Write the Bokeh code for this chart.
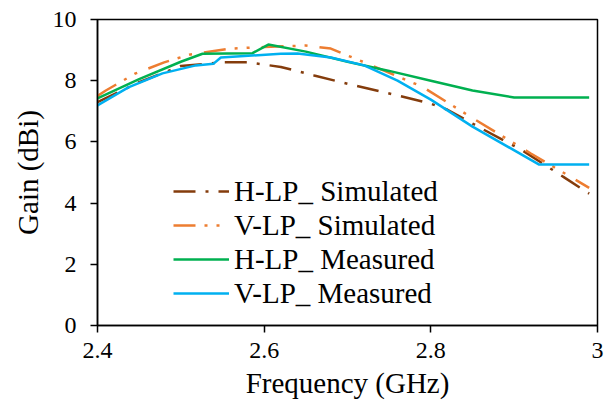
from bokeh.plotting import figure
from bokeh.models import FixedTicker, CustomJSTickFormatter, Legend, LegendItem
from bokeh.embed import file_html
from bokeh.resources import INLINE

# ---- data ----
freq_hsim = [2.40, 2.45, 2.50, 2.55, 2.58, 2.62, 2.66, 2.70, 2.76, 2.80, 2.82, 2.86, 2.91, 2.96, 2.99]
gain_hsim = [7.30, 7.95, 8.48, 8.60, 8.60, 8.45, 8.17, 7.90, 7.52, 7.25, 7.05, 6.45, 5.72, 4.84, 4.31]

freq_vsim = [2.40, 2.41, 2.445, 2.48, 2.51, 2.56, 2.60, 2.65, 2.68, 2.72, 2.79, 2.85, 2.92, 2.99]
gain_vsim = [7.50, 7.68, 8.23, 8.60, 8.85, 9.05, 9.10, 9.15, 9.05, 8.60, 7.80, 6.78, 5.62, 4.50]

freq_hmeas = [2.40, 2.45, 2.50, 2.526, 2.586, 2.605, 2.65, 2.70, 2.75, 2.80, 2.85, 2.90, 2.99]
gain_hmeas = [7.42, 8.05, 8.62, 8.88, 8.90, 9.18, 8.95, 8.62, 8.32, 8.00, 7.68, 7.45, 7.45]

freq_vmeas = [2.40, 2.437, 2.478, 2.518, 2.539, 2.548, 2.62, 2.64, 2.68, 2.72, 2.76, 2.80, 2.85, 2.93, 2.99]
gain_vmeas = [7.19, 7.78, 8.24, 8.50, 8.55, 8.76, 8.88, 8.89, 8.76, 8.50, 8.00, 7.38, 6.50, 5.26, 5.26]

x_ticks = [2.4, 2.6, 2.8, 3.0]
y_ticks = [0, 2, 4, 6, 8, 10]

series_names = ["H-LP_ Simulated", "V-LP_ Simulated", "H-LP_ Measured", "V-LP_ Measured"]

FONT = "Liberation Serif"

p = figure(width=612, height=409, output_backend="svg", toolbar_location=None,
           x_range=(2.4, 3.0), y_range=(0, 10),
           min_border_left=97, min_border_right=15, min_border_top=19, min_border_bottom=84)

p.background_fill_color = "white"
p.border_fill_color = "white"
p.outline_line_color = "black"
p.outline_line_width = 1.5
p.xgrid.visible = False
p.ygrid.visible = False

r1 = p.line(freq_hsim, gain_hsim, line_color="#843C0C", line_width=2.5, line_dash="22 10 3 10")
r2 = p.line(freq_vsim, gain_vsim, line_color="#ED7D31", line_width=2.5, line_dash="22 9 3 9 3 12")
r3 = p.line(freq_hmeas, gain_hmeas, line_color="#00B050", line_width=2.5)
r4 = p.line(freq_vmeas, gain_vmeas, line_color="#00B0F0", line_width=2.5)

for ax in (p.xaxis[0], p.yaxis[0]):
    ax.axis_line_color = "black"
    ax.axis_line_width = 1.5
    ax.major_tick_line_color = "black"
    ax.major_tick_line_width = 1.5
    ax.major_tick_in = 0
    ax.major_tick_out = 7
    ax.minor_tick_line_color = None
    ax.major_label_text_font = FONT
    ax.major_label_text_font_size = "24px"
    ax.major_label_text_color = "black"
    ax.axis_label_text_font = FONT
    ax.axis_label_text_font_size = "29px"
    ax.axis_label_text_font_style = "normal"
    ax.axis_label_text_color = "black"

p.xaxis.ticker = FixedTicker(ticks=x_ticks)
p.yaxis.ticker = FixedTicker(ticks=y_ticks)
p.xaxis.formatter = CustomJSTickFormatter(code="return (Math.round(tick*10)/10).toString();")
p.xaxis.major_label_standoff = 10
p.yaxis.major_label_standoff = 14
p.xaxis.axis_label = "Frequency (GHz)"
p.yaxis.axis_label = "Gain (dBi)"
p.xaxis.axis_label_standoff = 6
p.yaxis.axis_label_standoff = 6

legend = Legend(items=[LegendItem(label=series_names[0], renderers=[r1]),
                       LegendItem(label=series_names[1], renderers=[r2]),
                       LegendItem(label=series_names[2], renderers=[r3]),
                       LegendItem(label=series_names[3], renderers=[r4])],
                location=(76, 15))
legend.border_line_alpha = 0
legend.background_fill_alpha = 0
legend.padding = 0
legend.margin = 0
legend.spacing = 0
legend.glyph_width = 56
legend.glyph_height = 34
legend.label_height = 34
legend.label_standoff = 5
legend.label_text_font = FONT
legend.label_text_font_size = "29px"
legend.label_text_color = "black"
p.add_layout(legend, "center")

open("out.html", "w").write(file_html(p, INLINE))
